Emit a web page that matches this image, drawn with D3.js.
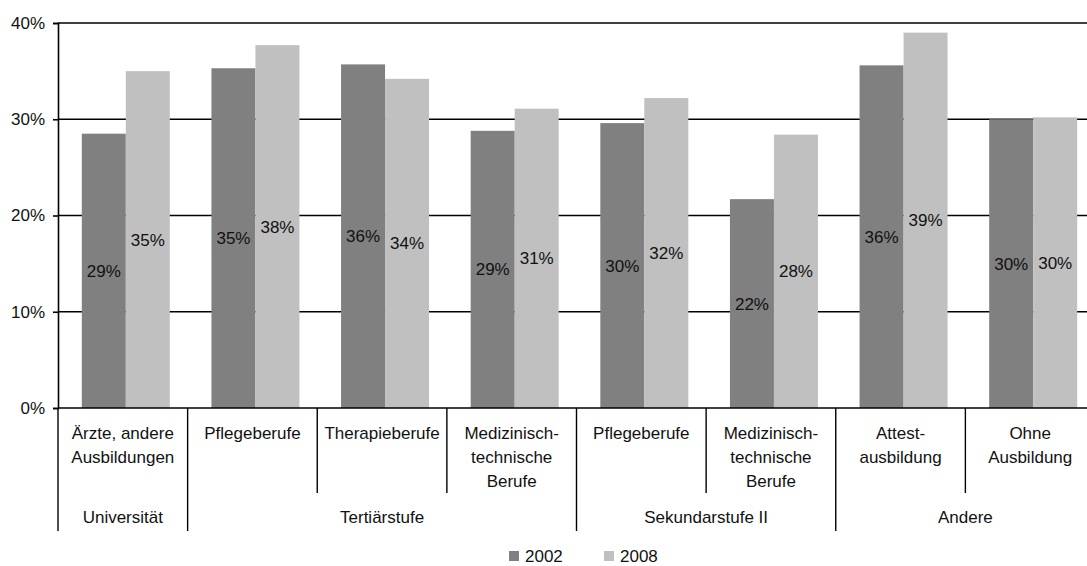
<!DOCTYPE html>
<html>
<head>
<meta charset="utf-8">
<script src="https://cdn.jsdelivr.net/npm/d3@7"></script>
<style>
  body { margin: 0; background: #fff; }
  svg { display: block; font-family: "Liberation Sans", Arial, sans-serif; }
</style>
</head>
<body>
<div id="chart"></div>
<script>
const categories = [
  ["Ärzte, andere", "Ausbildungen"],
  ["Pflegeberufe"],
  ["Therapieberufe"],
  ["Medizinisch-", "technische", "Berufe"],
  ["Pflegeberufe"],
  ["Medizinisch-", "technische", "Berufe"],
  ["Attest-", "ausbildung"],
  ["Ohne", "Ausbildung"]
];
const groups = [
  { name: "Universität", from: 0, to: 1 },
  { name: "Tertiärstufe", from: 1, to: 4 },
  { name: "Sekundarstufe II", from: 4, to: 6 },
  { name: "Andere", from: 6, to: 8 }
];
const seriesNames = ["2002", "2008"];
const values2002 = [28.5, 35.3, 35.7, 28.8, 29.6, 21.7, 35.6, 30.0];
const values2008 = [35.0, 37.7, 34.2, 31.1, 32.2, 28.4, 39.0, 30.2];
const yTicks = [0, 10, 20, 30, 40];
const colors = ["#808080", "#c0c0c0"];

const width = 1087, height = 566;
const plot = { left: 58, right: 1095, top: 23, bottom: 408 };
const fontSize = 17;

const svg = d3.select("#chart").append("svg")
  .attr("width", width)
  .attr("height", height);

const idx = d3.range(categories.length);
const x = d3.scaleBand().domain(idx).range([plot.left, plot.right]);
const xInner = d3.scaleBand().domain([0, 1]).range([0, 88]);
const y = d3.scaleLinear().domain([0, 40]).range([plot.bottom, plot.top]);

// gridlines
svg.append("g").selectAll("line")
  .data(yTicks.filter(d => d > 0))
  .enter().append("line")
  .attr("x1", plot.left).attr("x2", width)
  .attr("y1", d => y(d)).attr("y2", d => y(d))
  .attr("stroke", "#000").attr("stroke-width", 1.6);

// bars
const rows = idx.map(i => [values2002[i], values2008[i]]);
const barGroups = svg.append("g").selectAll("g")
  .data(rows)
  .enter().append("g")
  .attr("transform", (d, i) => `translate(${x(i) + x.bandwidth() / 2 - 44 + 3},0)`);

barGroups.selectAll("rect")
  .data(d => d)
  .enter().append("rect")
  .attr("x", (d, j) => xInner(j))
  .attr("y", d => y(d))
  .attr("width", xInner.bandwidth())
  .attr("height", d => y(0) - y(d))
  .attr("fill", (d, j) => colors[j]);

barGroups.selectAll("text")
  .data(d => d)
  .enter().append("text")
  .attr("x", (d, j) => xInner(j) + xInner.bandwidth() / 2)
  .attr("y", d => (y(d) + y(0)) / 2)
  .attr("dy", "0.35em")
  .attr("text-anchor", "middle")
  .attr("font-size", fontSize)
  .attr("fill", "#111")
  .text(d => d3.format(".0f")(d) + "%");

// y axis
const yAxis = svg.append("g")
  .attr("transform", `translate(${plot.left},0)`)
  .call(d3.axisLeft(y).tickValues(yTicks).tickFormat(d => d + "%").tickSize(5).tickPadding(8));
yAxis.select(".domain").attr("stroke", "#000").attr("stroke-width", 1.6);
yAxis.selectAll(".tick line").attr("stroke-width", 1.6);
yAxis.selectAll("text").attr("font-size", fontSize).attr("font-family", "Liberation Sans, Arial, sans-serif").attr("fill", "#111");

// x axis baseline
svg.append("line")
  .attr("x1", plot.left).attr("x2", width)
  .attr("y1", y(0)).attr("y2", y(0))
  .attr("stroke", "#000").attr("stroke-width", 1.6);

// category dividers
const groupEdges = new Set(groups.map(g => g.from).concat([categories.length]));
svg.append("g").selectAll("line")
  .data(d3.range(categories.length + 1))
  .enter().append("line")
  .attr("x1", i => i < categories.length ? x(i) : x(i - 1) + x.bandwidth())
  .attr("x2", i => i < categories.length ? x(i) : x(i - 1) + x.bandwidth())
  .attr("y1", y(0))
  .attr("y2", i => groupEdges.has(i) ? 531 : 493)
  .attr("stroke", "#000").attr("stroke-width", 1.4);

// category labels
const catLabels = svg.append("g").selectAll("text")
  .data(categories)
  .enter().append("text")
  .attr("text-anchor", "middle")
  .attr("font-size", fontSize)
  .attr("fill", "#111");
catLabels.selectAll("tspan")
  .data((d, i) => d.map(t => ({ t, i })))
  .enter().append("tspan")
  .attr("x", d => x(d.i) + x.bandwidth() / 2)
  .attr("y", (d, k) => 439 + k * 24)
  .text(d => d.t);

// group labels
svg.append("g").selectAll("text")
  .data(groups)
  .enter().append("text")
  .attr("x", g => (x(g.from) + x(g.to - 1) + x.bandwidth()) / 2)
  .attr("y", 523)
  .attr("text-anchor", "middle")
  .attr("font-size", fontSize)
  .attr("fill", "#111")
  .text(g => g.name);

// legend
const legend = svg.append("g").selectAll("g")
  .data(seriesNames)
  .enter().append("g")
  .attr("transform", (d, i) => `translate(${509 + i * 95},551)`);
legend.append("rect")
  .attr("width", 10).attr("height", 10)
  .attr("fill", (d, i) => colors[i]);
legend.append("text")
  .attr("x", 16).attr("y", 11)
  .attr("font-size", fontSize)
  .attr("fill", "#111")
  .text(d => d);
</script>
</body>
</html>
